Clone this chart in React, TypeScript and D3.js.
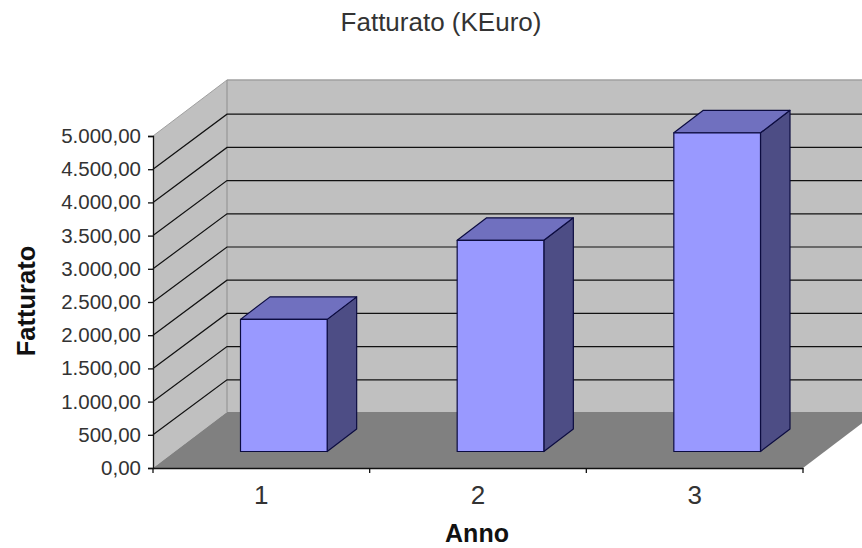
import { useEffect, useRef } from "react";
import * as d3 from "d3";

const categories = ["1", "2", "3"];
const revenue = [1990, 3180, 4800];
const yTicks = [0, 500, 1000, 1500, 2000, 2500, 3000, 3500, 4000, 4500, 5000];

const WIDTH = 862;
const HEIGHT = 548;
const PLOT = { left: 153, right: 803, top: 136, bottom: 468 };
// Offset of the back wall from the front plane.
const DEPTH = { x: 74, y: -56 };
// Depth of one bar, and how far it sits behind the front plane.
const BAR_DEPTH = { x: 29.5, y: -22.5 };
const BAR_SHIFT = { x: 22.5, y: -16.5 };
const FONT = "'Liberation Sans', Arial, sans-serif";

const pts = (list: [number, number][]) => list.map((p) => p.join(",")).join(" ");

export default function App() {
  const svgRef = useRef<SVGSVGElement | null>(null);

  useEffect(() => {
    const svgEl = svgRef.current;
    if (!svgEl) return;
    const svg = d3.select(svgEl);
    svg.selectAll("*").remove();

    const x = d3.scaleBand<string>().domain(categories).range([PLOT.left, PLOT.right]).paddingInner(0).paddingOuter(0);
    const y = d3.scaleLinear().domain([0, 5000]).range([PLOT.bottom, PLOT.top]);
    const fmt = d3.formatLocale({ decimal: ",", thousands: ".", grouping: [3], currency: ["", "€"] }).format(",.2f");

    const backLeft = PLOT.left + DEPTH.x;
    const backRight = PLOT.right + DEPTH.x;

    // Walls and floor.
    svg.append("polygon")
      .attr("points", pts([[backLeft, y(5000) + DEPTH.y], [backRight, y(5000) + DEPTH.y], [backRight, y(0) + DEPTH.y], [backLeft, y(0) + DEPTH.y]]))
      .attr("fill", "#c0c0c0");
    svg.append("polygon")
      .attr("points", pts([[PLOT.left, y(5000)], [backLeft, y(5000) + DEPTH.y], [backLeft, y(0) + DEPTH.y], [PLOT.left, y(0)]]))
      .attr("fill", "#c0c0c0");
    svg.append("line")
      .attr("x1", PLOT.left).attr("y1", y(5000))
      .attr("x2", backLeft).attr("y2", y(5000) + DEPTH.y)
      .attr("stroke", "#a0a0a0");
    svg.append("line")
      .attr("x1", backLeft).attr("y1", y(5000) + DEPTH.y)
      .attr("x2", backRight).attr("y2", y(5000) + DEPTH.y)
      .attr("stroke", "#a0a0a0").attr("stroke-width", 1.5);
    svg.append("line")
      .attr("x1", backLeft).attr("y1", y(5000) + DEPTH.y)
      .attr("x2", backLeft).attr("y2", y(0) + DEPTH.y)
      .attr("stroke", "#969696").attr("stroke-width", 1.2);
    svg.append("polygon")
      .attr("points", pts([[PLOT.left, y(0)], [PLOT.right, y(0)], [backRight, y(0) + DEPTH.y], [backLeft, y(0) + DEPTH.y]]))
      .attr("fill", "#808080");

    // Gridlines run along the left wall, then across the back wall.
    svg.append("g")
      .selectAll("polyline")
      .data(yTicks.filter((t) => t > 0 && t < 5000))
      .join("polyline")
      .attr("points", (t) => pts([[PLOT.left, y(t)], [backLeft, y(t) + DEPTH.y + 1], [backRight, y(t) + DEPTH.y + 1]]))
      .attr("fill", "none")
      .attr("stroke", "#111111")
      .attr("stroke-width", 1.2);

    // Bars, each made of front, top and side faces.
    const bars = svg.append("g")
      .selectAll("g")
      .data(categories.map((c, i) => ({ c, v: revenue[i] })))
      .join("g")
      .attr("stroke", "#0c0c40")
      .attr("stroke-width", 1.2)
      .attr("stroke-linejoin", "round");
    const barW = x.bandwidth() * 0.4;
    const left = (c: string) => x(c)! + (x.bandwidth() - barW) / 2 + BAR_SHIFT.x;
    const topY = (v: number) => y(v) + BAR_SHIFT.y;
    const baseY = y(0) + BAR_SHIFT.y;

    bars.append("polygon")
      .attr("fill", "#4d4d85")
      .attr("points", (d) => {
        const r = left(d.c) + barW;
        return pts([[r, topY(d.v)], [r + BAR_DEPTH.x, topY(d.v) + BAR_DEPTH.y], [r + BAR_DEPTH.x, baseY + BAR_DEPTH.y], [r, baseY]]);
      });
    bars.append("polygon")
      .attr("fill", "#7070bf")
      .attr("points", (d) => {
        const l = left(d.c);
        const t = topY(d.v);
        return pts([[l, t], [l + BAR_DEPTH.x, t + BAR_DEPTH.y], [l + barW + BAR_DEPTH.x, t + BAR_DEPTH.y], [l + barW, t]]);
      });
    bars.append("rect")
      .attr("fill", "#9999ff")
      .attr("x", (d) => left(d.c))
      .attr("y", (d) => topY(d.v))
      .attr("width", barW)
      .attr("height", (d) => baseY - topY(d.v));

    // Axes.
    const gy = svg.append("g")
      .attr("transform", `translate(${PLOT.left},0)`)
      .call(d3.axisLeft(y).tickValues(yTicks).tickSize(5).tickPadding(7).tickFormat((d) => fmt(Number(d))));
    gy.selectAll("text").attr("font-family", FONT).attr("font-size", 20.5).attr("fill", "#333333");
    gy.selectAll(".domain, .tick line").attr("stroke", "#111111").attr("stroke-width", 1.3);

    const gx = svg.append("g")
      .attr("transform", `translate(0,${PLOT.bottom})`)
      .call(d3.axisBottom(x).tickSize(0).tickPadding(17.5));
    gx.selectAll("text").attr("font-family", FONT).attr("font-size", 26).attr("fill", "#333333");
    gx.select(".domain").attr("stroke", "#111111").attr("stroke-width", 1.3);
    gx.append("g")
      .selectAll("line")
      .data(categories.concat("end"))
      .join("line")
      .attr("x1", (c, i) => PLOT.left + i * x.bandwidth())
      .attr("x2", (c, i) => PLOT.left + i * x.bandwidth())
      .attr("y1", 0)
      .attr("y2", 5)
      .attr("stroke", "#111111")
      .attr("stroke-width", 1.3);

    // Titles.
    svg.append("text")
      .attr("x", 441).attr("y", 31)
      .attr("text-anchor", "middle")
      .attr("font-family", FONT).attr("font-size", 26).attr("fill", "#333333")
      .text("Fatturato (KEuro)");
    svg.append("text")
      .attr("x", 477).attr("y", 542)
      .attr("text-anchor", "middle")
      .attr("font-family", FONT).attr("font-size", 25).attr("font-weight", "bold").attr("fill", "#111111")
      .text("Anno");
    svg.append("text")
      .attr("transform", "translate(35,301) rotate(-90)")
      .attr("text-anchor", "middle")
      .attr("font-family", FONT).attr("font-size", 25.5).attr("font-weight", "bold").attr("fill", "#111111")
      .text("Fatturato");
  }, []);

  return (
    <svg
      ref={svgRef}
      width={WIDTH}
      height={HEIGHT}
      viewBox={`0 0 ${WIDTH} ${HEIGHT}`}
      style={{ position: "absolute", left: 0, top: 0, background: "#ffffff" }}
    />
  );
}
